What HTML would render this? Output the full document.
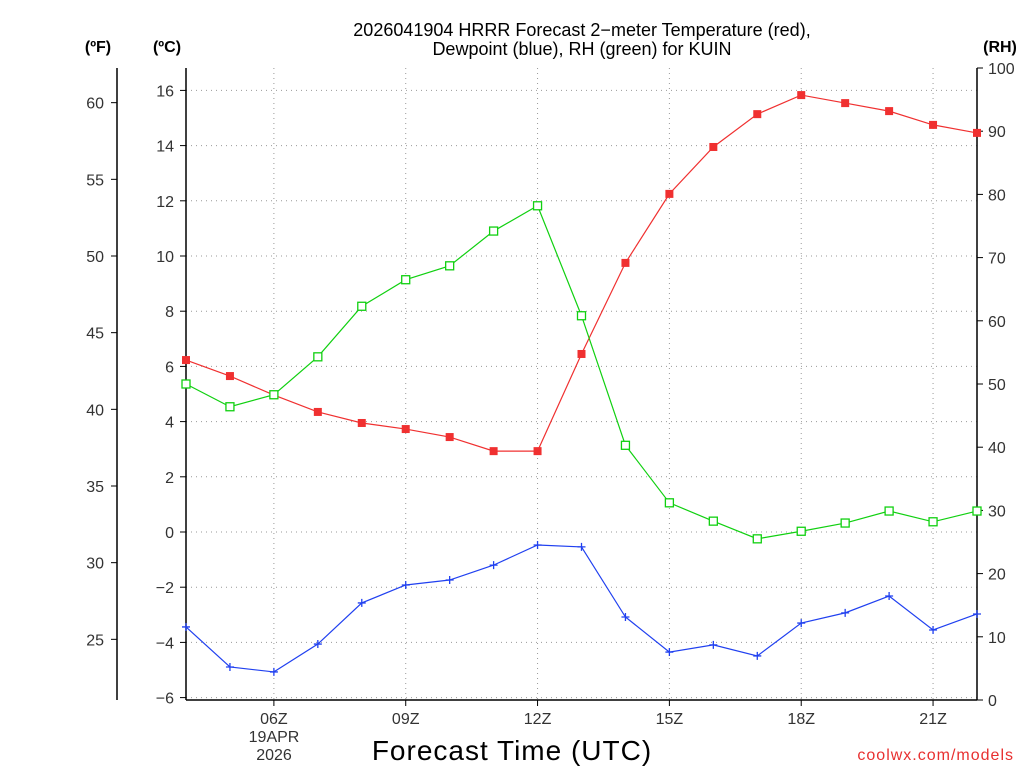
<!DOCTYPE html>
<html><head><meta charset="utf-8"><style>
body{margin:0;background:#fff;}
svg text{font-family:"Liberation Sans",sans-serif;}
</style></head><body>
<svg width="1024" height="768" xmlns="http://www.w3.org/2000/svg">
<g id="grid"></g>
<g id="axes"></g>
<g id="series"></g>
<text x="582" y="36" font-size="18" text-anchor="middle">2026041904 HRRR Forecast 2−meter Temperature (red),</text>
<text x="582" y="55" font-size="18" text-anchor="middle">Dewpoint (blue), RH (green) for KUIN</text>
<text x="98" y="52" font-size="16" font-weight="bold" text-anchor="middle">(ºF)</text>
<text x="167" y="52" font-size="16" font-weight="bold" text-anchor="middle">(ºC)</text>
<text x="1000" y="52" font-size="16" font-weight="bold" text-anchor="middle">(RH)</text>
<text x="512" y="760" font-size="28" text-anchor="middle" letter-spacing="1">Forecast Time (UTC)</text>
<text x="274" y="742" font-size="16" text-anchor="middle" fill="#333">19APR</text>
<text x="274" y="760" font-size="16" text-anchor="middle" fill="#333">2026</text>
<text x="1014" y="760" font-size="16" text-anchor="end" fill="#e83030" letter-spacing="1">coolwx.com/models</text>
</svg>
<script>
const hours=[4,5,6,7,8,9,10,11,12,13,14,15,16,17,18,19,20,21,22];
const tempC=[6.23,5.65,4.96,4.35,3.95,3.73,3.44,2.93,2.93,6.45,9.75,12.25,13.95,15.14,15.83,15.54,15.25,14.75,14.46];
const dewC=[-3.44,-4.89,-5.07,-4.06,-2.57,-1.92,-1.74,-1.2,-0.47,-0.54,-3.08,-4.35,-4.09,-4.49,-3.3,-2.93,-2.32,-3.55,-2.97];
const rh=[50,46.4,48.3,54.3,62.3,66.5,68.7,74.2,78.2,60.8,40.3,31.2,28.3,25.5,26.7,28,29.9,28.2,29.9];
const cTicks=[-6,-4,-2,0,2,4,6,8,10,12,14,16];
const fTicks=[25,30,35,40,45,50,55,60];
const rhTicks=[0,10,20,30,40,50,60,70,80,90,100];
const xTickHours=[6,9,12,15,18,21];
const xTickLabels=["06Z","09Z","12Z","15Z","18Z","21Z"];
const X0=186,X1=977,Y0=68,Y1=700;
const xs=h=>X0+(h-4)*(X1-X0)/18;
const yc=c=>532-c*27.6;
const yr=r=>Y1-r*(Y1-Y0)/100;
const NS="http://www.w3.org/2000/svg";
function mk(tag,attrs,parent,txt){const e=document.createElementNS(NS,tag);for(const k in attrs)e.setAttribute(k,attrs[k]);if(txt!=null)e.textContent=txt;document.getElementById(parent).appendChild(e);return e;}
// grid
cTicks.forEach(c=>{const l=mk('line',{x1:X0,x2:X1,y1:yc(c),y2:yc(c),stroke:'#999','stroke-dasharray':'1,4'},'grid');

});
xTickHours.forEach(h=>{const l=mk('line',{x1:xs(h),x2:xs(h),y1:Y0,y2:Y1,stroke:'#999','stroke-dasharray':'1,4'},'grid');

});
// axes
[[X0,Y0,X0,Y1],[X1,Y0,X1,Y1],[X0,Y1,X1,Y1],[117,Y0,117,Y1]].forEach(a=>{const l=mk('line',{x1:a[0],y1:a[1],x2:a[2],y2:a[3],stroke:'#000','stroke-width':1.5},'axes');

});
cTicks.forEach(c=>{mk('line',{x1:X0-6,x2:X0,y1:yc(c),y2:yc(c),stroke:'#000'},'axes');
const t=mk('text',{x:X0-12,y:yc(c)+6,'font-size':16,'text-anchor':'end',fill:'#333'},'axes',c<0?'−'+(-c):c);

});
fTicks.forEach(f=>{const y=yc((f-32)*5/9);
mk('line',{x1:111,x2:117,y1:y,y2:y,stroke:'#000'},'axes');
const t=mk('text',{x:104,y:y+6,'font-size':16,'text-anchor':'end',fill:'#333'},'axes',f);

});
rhTicks.forEach(r=>{mk('line',{x1:X1,x2:X1+6,y1:yr(r),y2:yr(r),stroke:'#000'},'axes');
const t=mk('text',{x:988,y:yr(r)+6,'font-size':16,fill:'#333'},'axes',r);

});
xTickHours.forEach((h,i)=>{mk('line',{x1:xs(h),x2:xs(h),y1:Y1,y2:Y1+6,stroke:'#000'},'axes');
const t=mk('text',{x:xs(h),y:724,'font-size':16,'text-anchor':'middle',fill:'#333'},'axes',xTickLabels[i]);

});
// series
function line(vals,yf,color,name){const p=mk('polyline',{points:vals.map((v,i)=>xs(hours[i])+','+yf(v)).join(' '),fill:'none',stroke:color,'stroke-width':1.2},'series');

}
line(tempC,yc,'#f03030','temperature-line');
line(dewC,yc,'#2040f0','dewpoint-line');
line(rh,yr,'#10d010','rh-line');
tempC.forEach((v,i)=>{const r=mk('rect',{x:xs(hours[i])-4,y:yc(v)-4,width:8,height:8,fill:'#f03030'},'series');

});
rh.forEach((v,i)=>{const r=mk('rect',{x:xs(hours[i])-4,y:yr(v)-4,width:8,height:8,fill:'#fff',stroke:'#10d010','stroke-width':1.3},'series');

});
dewC.forEach((v,i)=>{const x=xs(hours[i]),y=yc(v);
const p=mk('path',{d:`M${x-4},${y}H${x+4}M${x},${y-4}V${y+4}`,stroke:'#2040f0','stroke-width':1.3},'series');

});
</script>
</body></html>
